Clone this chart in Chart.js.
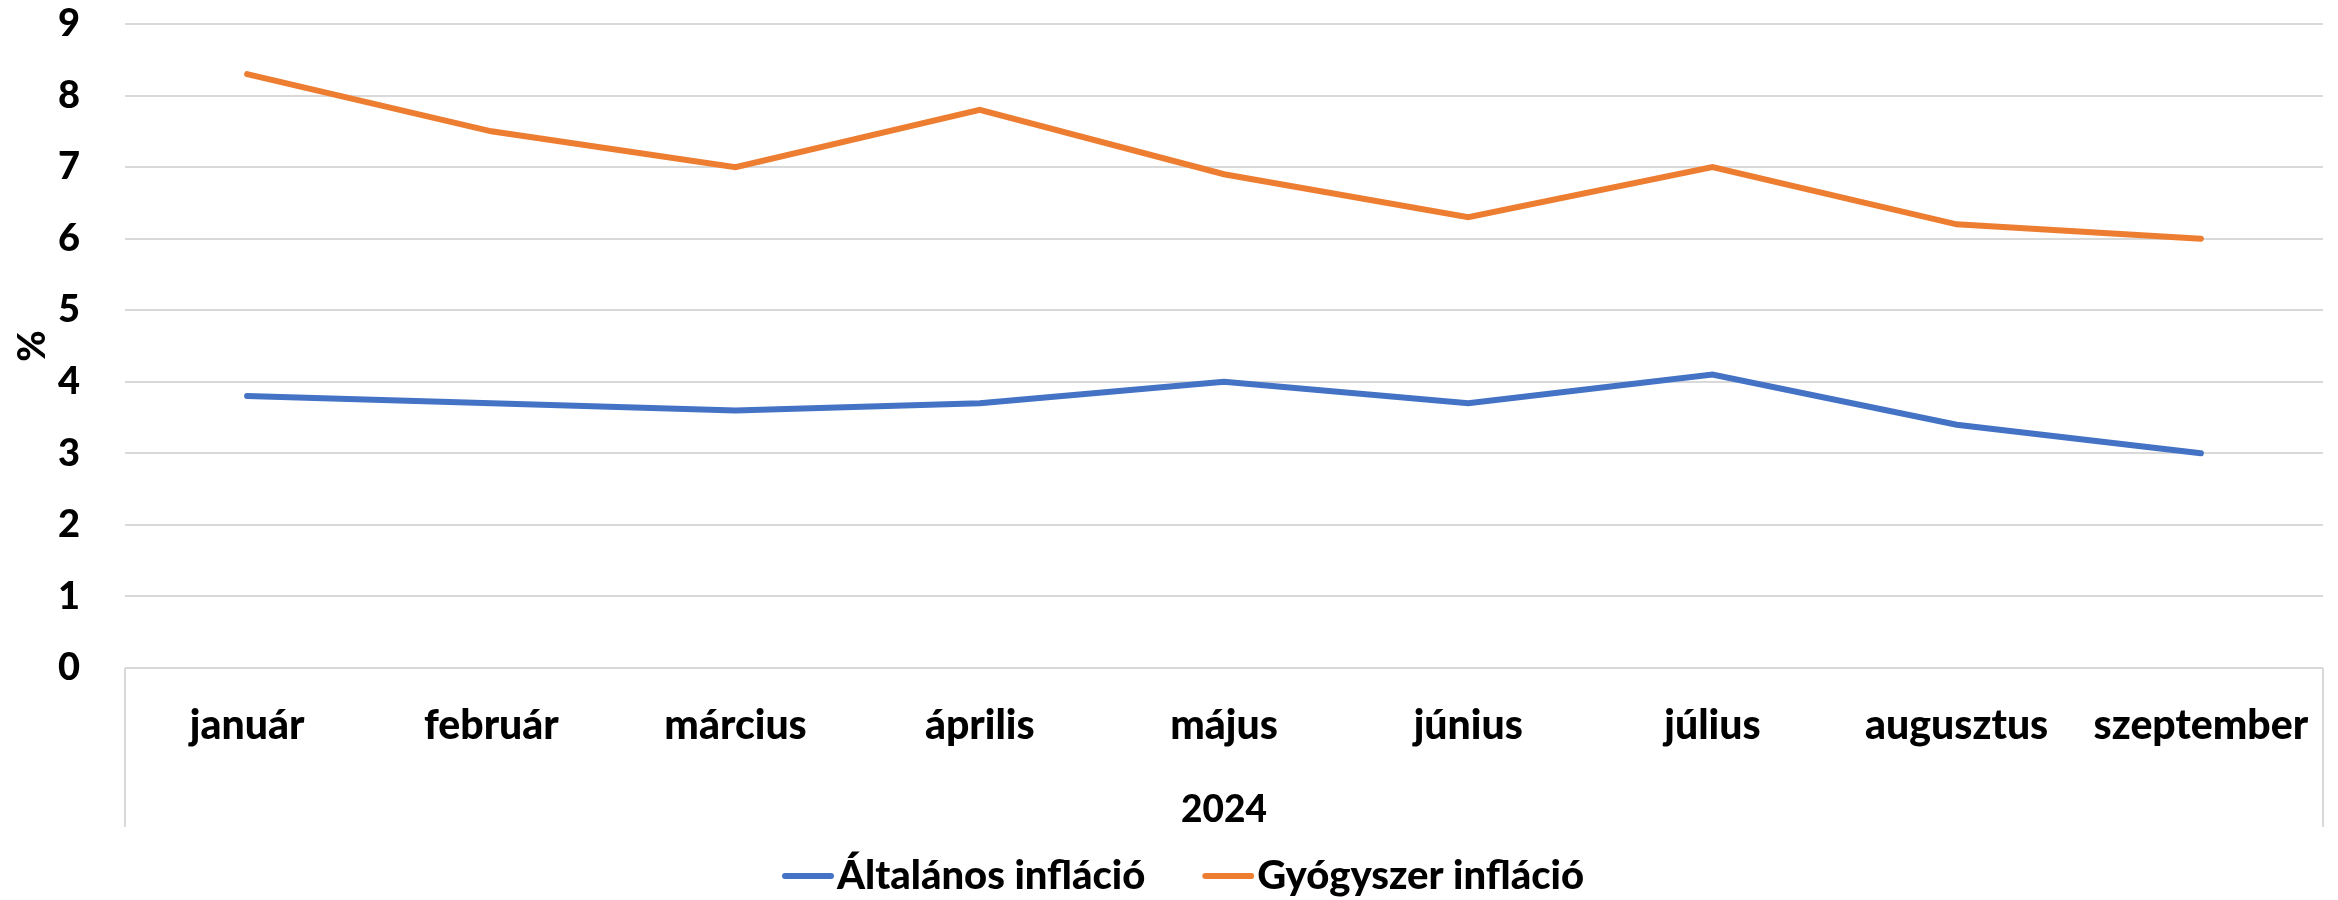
<!DOCTYPE html>
<html>
<head>
<meta charset="utf-8">
<script src="https://cdn.jsdelivr.net/npm/chart.js@4"></script>
<style>
    body { margin: 0; background: #fff; }
    #wrap { width: 2338px; height: 900px; }
</style>
</head>
<body>
<div id="wrap"><canvas id="lineCanvas" width="2338" height="900"></canvas></div>
<script>
const months = ["január", "február", "március", "április", "május", "június", "július", "augusztus", "szeptember"];
const altalanos = [3.8, 3.7, 3.6, 3.7, 4.0, 3.7, 4.1, 3.4, 3.0];
const gyogyszer = [8.3, 7.5, 7.0, 7.8, 6.9, 6.3, 7.0, 6.2, 6.0];
const yearLabel = "2024";

const fontFamily = "Lato, 'Open Sans', sans-serif";
const heavy = "900";
const legendFont = 40;
const legendBox = 68;

// legend swatch: a short line sitting right next to its text
function legendLine(color) {
    const lineEnd = legendBox + legendFont / 2 - 3;
    const c = document.createElement("canvas");
    c.width = Math.round(2 * (lineEnd - legendBox / 2));
    c.height = 10;
    const g = c.getContext("2d");
    g.strokeStyle = color;
    g.lineWidth = 6;
    g.lineCap = "round";
    g.beginPath();
    g.moveTo(c.width - 52 + 3, 5);
    g.lineTo(c.width - 3, 5);
    g.stroke();
    return c;
}

// box round the category axis, like the spreadsheet's multi-level axis
const axisBox = {
    id: "axisBox",
    afterDraw(chart) {
        const ctx = chart.ctx;
        const area = chart.chartArea;
        ctx.save();
        ctx.strokeStyle = "#d9d9d9";
        ctx.lineWidth = 2;
        ctx.beginPath();
        ctx.moveTo(area.left, area.bottom);
        ctx.lineTo(area.left, area.bottom + 159);
        ctx.moveTo(area.right, area.bottom);
        ctx.lineTo(area.right, area.bottom + 159);
        ctx.stroke();
        ctx.restore();
    }
};

const lineCanvas = document.getElementById("lineCanvas");

const lineChart = new Chart(lineCanvas, {
    type: "line",
    data: {
        labels: months,
        datasets: [{
            label: "Általános infláció",
            data: altalanos,
            borderColor: "#4472C4",
            backgroundColor: "#4472C4",
            borderWidth: 6,
            pointRadius: 0,
            borderCapStyle: "round"
        }, {
            label: "Gyógyszer infláció",
            data: gyogyszer,
            borderColor: "#ED7D31",
            backgroundColor: "#ED7D31",
            borderWidth: 6,
            pointRadius: 0,
            borderCapStyle: "round"
        }]
    },
    options: {
        responsive: false,
        animation: false,
        layout: {
            padding: { top: 0, right: 15, left: 10, bottom: -6 }
        },
        scales: {
            x: {
                offset: true,
                grid: { display: false },
                border: { display: false },
                afterFit(scale) { scale.height = 164; },
                ticks: {
                    color: "#000",
                    padding: 25,
                    maxRotation: 0,
                    font: { family: fontFamily, size: 41, weight: heavy }
                },
                title: {
                    display: true,
                    text: yearLabel,
                    color: "#000",
                    padding: { top: 40, bottom: 0 },
                    font: { family: fontFamily, size: 37, weight: heavy }
                }
            },
            y: {
                min: 0,
                max: 9,
                afterFit(scale) {
                    scale.width = 115;
                    scale.paddingTop = 24;
                },
                ticks: {
                    stepSize: 1,
                    color: "#000",
                    padding: 45,
                    font: { family: fontFamily, size: 38, weight: heavy }
                },
                grid: {
                    color: "#d9d9d9",
                    lineWidth: 2,
                    drawTicks: false
                },
                border: { display: false },
                title: {
                    display: true,
                    text: "%",
                    color: "#000",
                    padding: 0,
                    font: { family: fontFamily, size: 38, weight: heavy }
                }
            }
        },
        plugins: {
            legend: {
                position: "bottom",
                labels: {
                    usePointStyle: true,
                    pointStyleWidth: legendBox,
                    color: "#000",
                    padding: 24,
                    font: { family: fontFamily, size: legendFont, weight: heavy },
                    generateLabels(chart) {
                        const items = Chart.defaults.plugins.legend.labels.generateLabels(chart);
                        items.forEach((item, i) => {
                            item.pointStyle = legendLine(chart.data.datasets[i].borderColor);
                        });
                        return items;
                    }
                }
            },
            tooltip: { enabled: false }
        }
    },
    plugins: [axisBox]
});
</script>
</body>
</html>
